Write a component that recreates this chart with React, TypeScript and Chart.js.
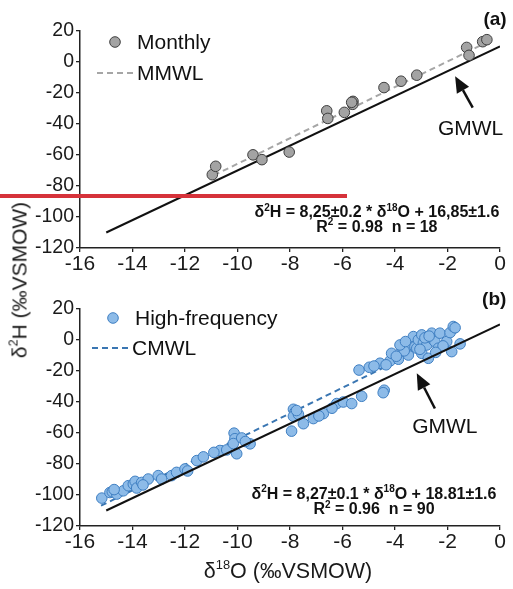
import React, { useEffect, useRef } from "react";
import { Chart, registerables } from "chart.js";
Chart.register(...registerables);

const FF = "'Liberation Sans', Arial, Helvetica, sans-serif";

// ---- Data ----
const xTicks = [-16, -14, -12, -10, -8, -6, -4, -2, 0];
const yTicks = [-120, -100, -80, -60, -40, -20, 0, 20];

// Panel (a): monthly samples
const monthlyX = [-10.96, -10.83, -9.41, -9.07, -8.03, -6.6, -6.56, -5.93, -5.6, -5.61, -5.65, -4.42, -3.77, -3.17, -1.27, -1.18, -0.66, -0.5];
const monthlyY = [-72.7, -67.3, -59.9, -63.0, -58.1, -31.5, -36.4, -32.5, -25.4, -27.3, -26.0, -16.5, -12.4, -8.5, 9.4, 4.3, 13.1, 14.4];

// Panel (b): high-frequency samples
const hfX = [
  -15.17, -14.86, -14.77, -14.6, -14.35, -14.16, -13.97, -13.9, -13.84, -13.65,
  -13.4, -13.02, -12.89, -12.51, -12.32, -12.0, -11.55, -11.3, -10.67, -10.41,
  -10.13, -10.1, -10.16, -10.03, -9.84, -9.52, -7.87, -7.81, -7.87, -7.94,
  -7.68, -7.49, -7.11, -6.73, -6.22, -5.97, -5.65, -5.27, -4.41, -4.45,
  -5.37, -4.98, -4.57, -4.19, -4.13, -3.87, -3.74, -3.55, -3.49, -3.43,
  -3.35, -3.3, -3.24, -3.17, -3.11, -2.98, -2.98, -2.92, -2.79, -2.73,
  -2.6, -2.54, -2.48, -2.35, -2.29, -2.03, -1.9, -1.78, -1.84, -1.52,
  -1.71, -3.65, -4.34, -4.8, -2.86, -2.17, -3.81, -14.7, -13.6, -11.9,
  -10.9, -9.7, -6.9, -6.4, -3.95, -3.6, -2.7, -2.45, -3.05, -7.75,
];
const hfY = [
  -102.0, -98.4, -97.9, -99.4, -97.3, -94.0, -92.9, -91.2, -95.5, -91.9,
  -89.7, -87.5, -89.7, -87.5, -85.4, -83.2, -77.8, -75.4, -71.3, -70.9,
  -60.1, -63.7, -66.8, -73.4, -63.2, -67.0, -44.7, -46.6, -49.2, -58.8,
  -47.9, -54.0, -50.7, -47.5, -41.0, -40.0, -41.0, -36.3, -32.4, -34.0,
  -19.4, -17.6, -15.0, -13.5, -8.6, -12.4, -5.3, -7.5, -9.7, -2.1,
  -3.8, 2.2, -4.3, -5.3, 0.1, 3.3, -8.6, -2.1, -3.2, -11.8,
  4.4, 0.1, -1.0, -5.3, 4.4, -1.0, 4.8, 8.7, -7.5, -2.5,
  7.9, -7.0, -16.0, -16.8, 1.4, -3.8, -3.2, -96.5, -93.5, -84.5,
  -72.5, -65.5, -49.0, -44.0, -10.5, -1.0, 2.5, -8.0, -6.0, -45.5,
];

// Lines (end points)
const gmwlX = [-15, 0];
const gmwlY = [-110, 10];
const mmwlX = [-10.9, -0.5];
const mmwlY = [-73.1, 12.7];
const cmwlX = [-15.2, -1.6];
const cmwlY = [-106.9, 5.6];

type Seg = { t: string; sup?: boolean };

const panels = [
  {
    key: "a",
    height: 290,
    padTop: 31,
    xAxisH: 42,
    px: monthlyX, py: monthlyY,
    fill: "#a3a3a3", edge: "#3e3e3e",
    lx: mmwlX, ly: mmwlY, lineColor: "#a6a6a6",
    gmwlOnTop: false,
    legend: ["Monthly", "MMWL"],
    legOff: { mx: 35, my: 11, tx: 57, ly: 42, l0: 17, l1: 55, tx2: 57 },
    arrow: { tipX: -1.71, tipY: -9.2, tailX: -1.04, tailY: -29.4 },
    gmwlText: { x: -1.12, y: -46.8 },
    eq: {
      x: -4.69, y1: -100.2, y2: -109.6,
      l1: [{ t: "δ" }, { t: "2", sup: true }, { t: "H = 8,25±0.2 * δ" }, { t: "18", sup: true }, { t: "O + 16,85±1.6" }] as Seg[],
      l2: [{ t: "R" }, { t: "2", sup: true }, { t: " = 0.98  n = 18" }] as Seg[],
    },
    label: "(a)",
    labelPos: { x: -0.19, y: 23.9 },
  },
  {
    key: "b",
    height: 299,
    padTop: 19,
    xAxisH: 63,
    px: hfX, py: hfY,
    fill: "#8dbbe8", edge: "#3f7fc2",
    lx: cmwlX, ly: cmwlY, lineColor: "#3a76b2",
    gmwlOnTop: true,
    legend: ["High-frequency", "CMWL"],
    legOff: { mx: 33, my: 9, tx: 55, ly: 39, l0: 12, l1: 50, tx2: 52 },
    arrow: { tipX: -3.17, tipY: -21.5, tailX: -2.48, tailY: -44.2 },
    gmwlText: { x: -2.1, y: -60.3 },
    eq: {
      x: -4.8, y1: -102.6, y2: -112.4,
      l1: [{ t: "δ" }, { t: "2", sup: true }, { t: "H = 8,27±0.1 * δ" }, { t: "18", sup: true }, { t: "O + 18.81±1.6" }] as Seg[],
      l2: [{ t: "R" }, { t: "2", sup: true }, { t: " = 0.96  n = 90" }] as Seg[],
    },
    label: "(b)",
    labelPos: { x: -0.22, y: 22.5 },
  },
];

function drawRich(ctx: CanvasRenderingContext2D, segs: Seg[], cx: number, base: number, size: number, bold: boolean) {
  const font = (sup?: boolean) => `${bold ? "bold " : ""}${sup ? Math.round(size * 0.6) : size}px ${FF}`;
  let w = 0;
  for (const s of segs) {
    ctx.font = font(s.sup);
    w += ctx.measureText(s.t).width;
  }
  let x = cx - w / 2;
  ctx.textAlign = "left";
  ctx.textBaseline = "alphabetic";
  for (const s of segs) {
    ctx.font = font(s.sup);
    ctx.fillText(s.t, x, s.sup ? base - size * 0.42 : base);
    x += ctx.measureText(s.t).width;
  }
}

function makeChart(canvas: HTMLCanvasElement, p: any) {
  const deco = {
    id: "deco" + p.key,
    afterDatasetsDraw(chart: any) {
      const { ctx, chartArea: ca, scales } = chart;
      const xs = scales.x, ys = scales.y;
      ctx.save();
      // legend
      const o = p.legOff;
      ctx.beginPath();
      ctx.arc(ca.left + o.mx, ca.top + o.my, 5.3, 0, Math.PI * 2);
      ctx.fillStyle = p.fill;
      ctx.fill();
      ctx.lineWidth = 1;
      ctx.strokeStyle = p.edge;
      ctx.stroke();
      ctx.fillStyle = "#111";
      ctx.font = `21px ${FF}`;
      ctx.textAlign = "left";
      ctx.textBaseline = "middle";
      ctx.fillText(p.legend[0], ca.left + o.tx, ca.top + o.my + 1);
      ctx.beginPath();
      ctx.setLineDash([6, 4]);
      ctx.lineWidth = 2;
      ctx.strokeStyle = p.lineColor;
      ctx.moveTo(ca.left + o.l0, ca.top + o.ly);
      ctx.lineTo(ca.left + o.l1, ca.top + o.ly);
      ctx.stroke();
      ctx.setLineDash([]);
      ctx.fillText(p.legend[1], ca.left + o.tx2, ca.top + o.ly + 1);

      // arrow
      const a = p.arrow;
      const tx = xs.getPixelForValue(a.tipX), ty = ys.getPixelForValue(a.tipY);
      const sx = xs.getPixelForValue(a.tailX), sy = ys.getPixelForValue(a.tailY);
      const ang = Math.atan2(ty - sy, tx - sx);
      const hl = 16, hw = 7;
      const bx = tx - hl * Math.cos(ang), by = ty - hl * Math.sin(ang);
      ctx.beginPath();
      ctx.strokeStyle = "#111";
      ctx.lineWidth = 2.5;
      ctx.moveTo(sx, sy);
      ctx.lineTo(bx, by);
      ctx.stroke();
      ctx.beginPath();
      ctx.fillStyle = "#111";
      ctx.moveTo(tx, ty);
      ctx.lineTo(bx + hw * Math.sin(ang), by - hw * Math.cos(ang));
      ctx.lineTo(bx - hw * Math.sin(ang), by + hw * Math.cos(ang));
      ctx.closePath();
      ctx.fill();

      // GMWL text
      ctx.font = `21px ${FF}`;
      ctx.textAlign = "center";
      ctx.textBaseline = "alphabetic";
      ctx.fillText("GMWL", xs.getPixelForValue(p.gmwlText.x), ys.getPixelForValue(p.gmwlText.y));

      // equation
      const e = p.eq;
      const ex = xs.getPixelForValue(e.x);
      drawRich(ctx, e.l1, ex, ys.getPixelForValue(e.y1), 16, true);
      drawRich(ctx, e.l2, ex, ys.getPixelForValue(e.y2), 16, true);

      // panel label
      ctx.font = `bold 19px ${FF}`;
      ctx.textAlign = "center";
      ctx.textBaseline = "alphabetic";
      ctx.fillText(p.label, xs.getPixelForValue(p.labelPos.x), ys.getPixelForValue(p.labelPos.y));
      ctx.restore();
    },
  };

  const pts = p.px.map((x: number, i: number) => ({ x, y: p.py[i] }));
  const mwl = p.lx.map((x: number, i: number) => ({ x, y: p.ly[i] }));
  const gm = gmwlX.map((x, i) => ({ x, y: gmwlY[i] }));

  return new Chart(canvas, {
    type: "scatter",
    data: {
      datasets: [
        { type: "line", data: mwl, borderColor: p.lineColor, borderDash: [6, 4], borderWidth: 2, pointRadius: 0, order: 3 } as any,
        { data: pts, backgroundColor: p.fill, borderColor: p.edge, borderWidth: 1, pointRadius: 5.3, pointHoverRadius: 5.3, order: 2 },
        { type: "line", data: gm, borderColor: "#111", borderWidth: 2, pointRadius: 0, order: p.gmwlOnTop ? 1 : 4 } as any,
      ],
    },
    options: {
      responsive: false,
      animation: false,
      devicePixelRatio: 1,
      layout: { padding: { top: p.padTop, right: 13, left: 0, bottom: 0 } },
      plugins: { legend: { display: false }, tooltip: { enabled: false } },
      scales: {
        x: {
          type: "linear",
          min: -16,
          max: 0,
          afterBuildTicks: (s: any) => { s.ticks = xTicks.map((v) => ({ value: v })); },
          grid: { display: true, drawOnChartArea: false, drawTicks: true, tickLength: 4, color: "#222", lineWidth: 1.3 },
          border: { display: true, color: "#222", width: 1.5 },
          ticks: { font: { family: FF, size: 21 }, color: "#1a1a1a", padding: 0, maxRotation: 0, autoSkip: false },
          afterFit: (s: any) => { s.height = p.xAxisH; },
        },
        y: {
          type: "linear",
          min: -120,
          max: 20,
          afterBuildTicks: (s: any) => { s.ticks = yTicks.map((v) => ({ value: v })); },
          grid: { display: true, drawOnChartArea: false, drawTicks: true, tickLength: 4, color: "#222", lineWidth: 1.3 },
          border: { display: true, color: "#222", width: 1.5 },
          ticks: { font: { family: FF, size: 19.5 }, color: "#1a1a1a", padding: 2, autoSkip: false },
          afterFit: (s: any) => { s.width = 80; },
        },
      },
    },
    plugins: [deco],
  });
}

export default function App() {
  const refA = useRef<HTMLCanvasElement>(null);
  const refB = useRef<HTMLCanvasElement>(null);
  useEffect(() => {
    const a = makeChart(refA.current!, panels[0]);
    const b = makeChart(refB.current!, panels[1]);
    return () => {
      a.destroy();
      b.destroy();
    };
  }, []);
  const supStyle: React.CSSProperties = { fontSize: "0.6em", verticalAlign: "0.7em", lineHeight: 0 };
  return (
    <div style={{ position: "fixed", left: 0, top: 0, width: 513, height: 589, background: "#fff", overflow: "hidden", fontFamily: FF }}>
      <canvas ref={refA} width={513} height={290} style={{ position: "absolute", left: 0, top: 0, width: 513, height: 290 }} />
      <canvas ref={refB} width={513} height={299} style={{ position: "absolute", left: 0, top: 290, width: 513, height: 299 }} />
      <div
        style={{
          position: "absolute", left: 19, top: 280, transform: "translate(-50%,-50%) rotate(-90deg)",
          whiteSpace: "nowrap", fontSize: 21, lineHeight: 1, color: "#1a1a1a",
        }}
      >
        δ<sup style={supStyle}>2</sup>H (‰VSMOW)
      </div>
      <div
        style={{
          position: "absolute", left: 288, top: 561, transform: "translateX(-50%)",
          whiteSpace: "nowrap", fontSize: 21.5, lineHeight: 1, color: "#1a1a1a",
        }}
      >
        δ<sup style={supStyle}>18</sup>O (‰VSMOW)
      </div>
      <div style={{ position: "absolute", left: 0, top: 194, width: 347, height: 4, background: "#d6323a" }} />
    </div>
  );
}
